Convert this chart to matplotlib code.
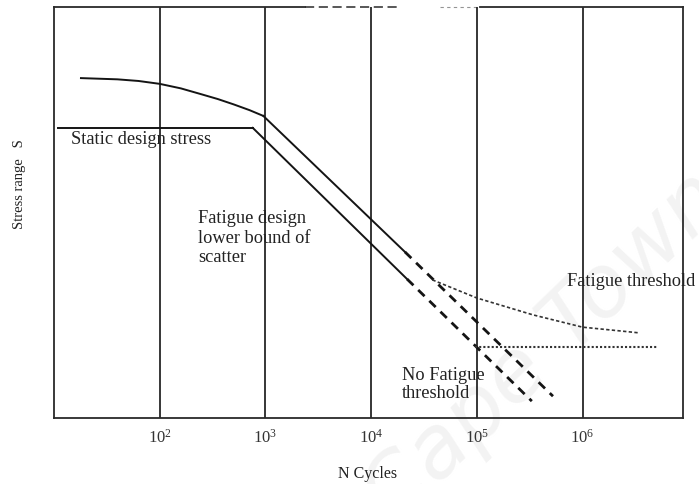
import matplotlib
matplotlib.use("Agg")
import matplotlib.pyplot as plt
import numpy as np

plt.rcParams["font.family"] = ["Liberation Serif", "DejaVu Serif"]
plt.rcParams["mathtext.fontset"] = "custom"
plt.rcParams["mathtext.rm"] = "Liberation Serif"
plt.rcParams["mathtext.it"] = "Liberation Serif:italic"

# ---- S-N curve data (log10 of cycles, stress range in arbitrary units) ----
mean_knee_logN = [1.255, 1.6, 1.8, 2.0, 2.2, 2.39, 2.55, 2.70, 2.85, 2.98]
mean_knee_S = [82.7, 82.4, 82.0, 81.3, 80.2, 78.8, 77.6, 76.3, 74.9, 73.5]

mean_solid_logN = [2.98, 4.32]
mean_solid_S = [73.5, 40.4]

mean_dashed_logN = [4.32, 5.72]
mean_dashed_S = [40.4, 5.3]

static_logN = [1.04, 2.88]
static_S = [70.6, 70.6]

design_solid_logN = [2.88, 4.34]
design_solid_S = [70.6, 33.8]

design_dashed_logN = [4.34, 5.52]
design_dashed_S = [33.8, 4.1]

threshold_logN = [4.58, 5.0, 5.53, 6.0, 6.35, 6.54]
threshold_S = [33.6, 29.2, 25.1, 22.1, 21.2, 20.7]

no_threshold_logN = [4.98, 6.71]
no_threshold_S = [17.2, 17.2]

tick_exponents = [2, 3, 4, 5, 6]
tick_labels = [r"$\mathregular{10^{%d}}$" % e for e in tick_exponents]

x_range = [1.0, 6.95]
y_range = [0, 100]


def N(logs):
    return np.power(10.0, np.asarray(logs, dtype=float))


fig = plt.figure(figsize=(6.99, 4.84), dpi=100)
ax = fig.add_axes([54 / 699, 1 - 418 / 484, 629 / 699, 411 / 484])
ax.set_facecolor("none")

# faint watermark behind the plot
fig.text(0.78, 0.28, "Cape Town", fontsize=62, color="#f3f3f3",
         rotation=44, ha="center", va="center", zorder=-5,
         family="DejaVu Sans", style="italic")

ax.set_xscale("log")
ax.set_xlim(N(x_range))
ax.set_ylim(y_range)

ink = "#141414"

# vertical decade lines
ax.set_xticks(N(tick_exponents))
ax.set_xticklabels(tick_labels, fontsize=12)
ax.xaxis.set_minor_locator(matplotlib.ticker.NullLocator())
ax.tick_params(axis="x", length=0, pad=8, colors="#333333")
ax.set_yticks([])
ax.xaxis.grid(True, color=ink, lw=1.2)
ax.set_axisbelow(True)

# curves
ax.plot(N(mean_knee_logN), mean_knee_S, color=ink, lw=1.4)
ax.plot(N(mean_solid_logN), mean_solid_S, color=ink, lw=1.4)
ax.plot(N(mean_dashed_logN), mean_dashed_S, color=ink, lw=2.0,
        linestyle=(0, (3.2, 2.4)))
ax.plot(N(static_logN), static_S, color=ink, lw=1.4)
ax.plot(N(design_solid_logN), design_solid_S, color=ink, lw=1.4)
ax.plot(N(design_dashed_logN), design_dashed_S, color=ink, lw=2.0,
        linestyle=(0, (3.2, 2.4)))
ax.plot(N(threshold_logN), threshold_S, color="#333333", lw=1.2,
        linestyle=(0, (2.0, 1.4)))
ax.plot(N(no_threshold_logN), no_threshold_S, color="#333333", lw=1.5,
        linestyle=(0, (1.0, 1.0)))

# spines: top edge is broken in the middle
for side in ["left", "right", "bottom"]:
    ax.spines[side].set_color("#2a2a2a")
    ax.spines[side].set_linewidth(1.3)
ax.spines["top"].set_visible(False)
top_kw = dict(transform=ax.transAxes, color="#2a2a2a", clip_on=False)
ax.plot([0, (305 - 54) / 629], [1, 1], lw=1.3, **top_kw)
ax.plot([(305 - 54) / 629, (397 - 54) / 629], [1, 1], lw=1.1,
        linestyle=(0, (6, 3)), **top_kw)
ax.plot([(440 - 54) / 629, (480 - 54) / 629], [1, 1], lw=0.8,
        linestyle=(0, (3, 3)), alpha=0.5, **top_kw)
ax.plot([(480 - 54) / 629, 1], [1, 1], lw=1.3, **top_kw)

# annotations
txt = dict(fontsize=13.2, color="#222222")
ax.text(N(1.16), 67.8, "Static design stress", ha="left", va="center", **txt)
ax.text(N(2.36), 50.6, "Fatigue design\nlower bound of\nscatter",
        ha="left", va="top", linespacing=1.2, **txt)
ax.text(N(4.29), 12.4, "No Fatigue\nthreshold", ha="left", va="top",
        linespacing=1.1, **txt)
ax.text(N(5.85), 33.1, "Fatigue threshold", ha="left", va="center",
        clip_on=False, **txt)

fig.text(368 / 699, 1 - 474 / 484, "N Cycles", ha="center", va="center",
         fontsize=11.5, color="#222222")
fig.text(20 / 699, 1 - 184 / 484, "Stress range   S", ha="center",
         va="center", rotation=90, fontsize=10.5, color="#222222")

fig.savefig("out.png", dpi=100)
